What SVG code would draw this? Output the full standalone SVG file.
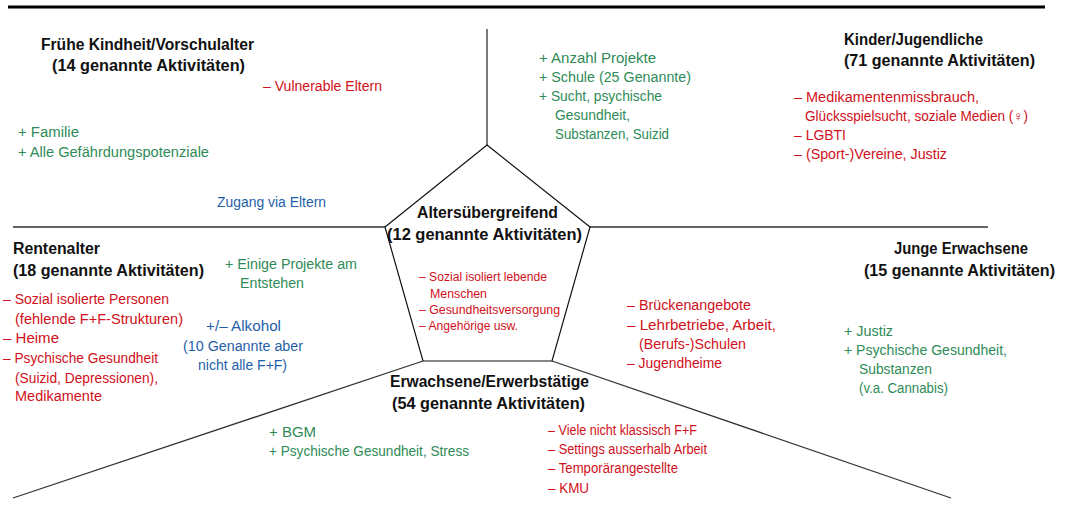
<svg xmlns="http://www.w3.org/2000/svg" width="1066" height="510" viewBox="0 0 1066 510">
<style>
text{font-family:"Liberation Sans",Arial,sans-serif;font-size:14px}
.t{font-weight:bold;font-size:16px;fill:#111}
.g{fill:#2E8B57}
.r{fill:#D0101A}
.b{fill:#1F5FAA}
.s{font-size:12.5px}
.ln{stroke:#333;stroke-width:1.3;fill:none}
</style>
<rect width="1066" height="510" fill="#fff"/>
<g id="connectors">
<line x1="8" y1="7" x2="1045" y2="7" stroke="#000" stroke-width="3"/>
<line class="ln" x1="487" y1="29" x2="487" y2="145"/>
<line class="ln" x1="13" y1="227" x2="385" y2="227" stroke="#666"/>
<line class="ln" x1="590" y1="227" x2="988" y2="227" stroke="#666"/>
<line class="ln" x1="423" y1="361" x2="13" y2="498"/>
<line class="ln" x1="552" y1="361" x2="951" y2="498"/>
</g>
<g id="altersuebergreifend">
<polygon points="487,145 590,227 552,361 423,361 385,227" fill="none" stroke="#111" stroke-width="1.2"/>
<text class="t" x="417" y="218" textLength="141" lengthAdjust="spacingAndGlyphs">Altersübergreifend</text>
<text class="t" x="387" y="240" textLength="195" lengthAdjust="spacingAndGlyphs">(12 genannte Aktivitäten)</text>
<text class="r s" x="419" y="281" textLength="128" lengthAdjust="spacingAndGlyphs">– Sozial isoliert lebende</text>
<text class="r s" x="430" y="298" textLength="57" lengthAdjust="spacingAndGlyphs">Menschen</text>
<text class="r s" x="419" y="314" textLength="141" lengthAdjust="spacingAndGlyphs">– Gesundheitsversorgung</text>
<text class="r s" x="419" y="330" textLength="99" lengthAdjust="spacingAndGlyphs">– Angehörige usw.</text>
</g>
<g id="fruehe-kindheit">
<text class="t" x="41" y="50" textLength="213" lengthAdjust="spacingAndGlyphs">Frühe Kindheit/Vorschulalter</text>
<text class="t" x="52" y="71" textLength="193" lengthAdjust="spacingAndGlyphs">(14 genannte Aktivitäten)</text>
<text class="r" x="263" y="91" textLength="119" lengthAdjust="spacingAndGlyphs">– Vulnerable Eltern</text>
<text class="g" x="18" y="137" textLength="61" lengthAdjust="spacingAndGlyphs">+  Familie</text>
<text class="g" x="18" y="157" textLength="191" lengthAdjust="spacingAndGlyphs">+  Alle Gefährdungspotenziale</text>
<text class="b" x="217" y="207" textLength="109" lengthAdjust="spacingAndGlyphs">Zugang via Eltern</text>
</g>
<g id="schule-mitte">
<text class="g" x="539" y="63" textLength="117" lengthAdjust="spacingAndGlyphs">+  Anzahl Projekte</text>
<text class="g" x="539" y="82" textLength="152" lengthAdjust="spacingAndGlyphs">+  Schule (25 Genannte)</text>
<text class="g" x="539" y="101" textLength="123" lengthAdjust="spacingAndGlyphs">+  Sucht, psychische</text>
<text class="g" x="555" y="120" textLength="75" lengthAdjust="spacingAndGlyphs">Gesundheit,</text>
<text class="g" x="555" y="139" textLength="114" lengthAdjust="spacingAndGlyphs">Substanzen, Suizid</text>
</g>
<g id="kinder-jugendliche">
<text class="t" x="844" y="45" textLength="139" lengthAdjust="spacingAndGlyphs">Kinder/Jugendliche</text>
<text class="t" x="844" y="66" textLength="191" lengthAdjust="spacingAndGlyphs">(71 genannte Aktivitäten)</text>
<text class="r" x="794" y="102" textLength="185" lengthAdjust="spacingAndGlyphs">– Medikamentenmissbrauch,</text>
<text class="r" x="805" y="121" textLength="223" lengthAdjust="spacingAndGlyphs">Glücksspielsucht, soziale Medien (♀)</text>
<text class="r" x="794" y="140" textLength="52" lengthAdjust="spacingAndGlyphs">– LGBTI</text>
<text class="r" x="794" y="159" textLength="153" lengthAdjust="spacingAndGlyphs">– (Sport-)Vereine, Justiz</text>
</g>
<g id="rentenalter">
<text class="t" x="13" y="254" textLength="87" lengthAdjust="spacingAndGlyphs">Rentenalter</text>
<text class="t" x="13" y="276" textLength="191" lengthAdjust="spacingAndGlyphs">(18 genannte Aktivitäten)</text>
<text class="g" x="225" y="269" textLength="132" lengthAdjust="spacingAndGlyphs">+  Einige Projekte am</text>
<text class="g" x="240" y="288" textLength="64" lengthAdjust="spacingAndGlyphs">Entstehen</text>
<text class="r" x="3" y="304" textLength="166" lengthAdjust="spacingAndGlyphs">– Sozial isolierte Personen</text>
<text class="r" x="15" y="324" textLength="168" lengthAdjust="spacingAndGlyphs">(fehlende F+F-Strukturen)</text>
<text class="r" x="3" y="343" textLength="56" lengthAdjust="spacingAndGlyphs">– Heime</text>
<text class="r" x="3" y="363" textLength="155" lengthAdjust="spacingAndGlyphs">– Psychische Gesundheit</text>
<text class="r" x="15" y="383" textLength="143" lengthAdjust="spacingAndGlyphs">(Suizid, Depressionen),</text>
<text class="r" x="15" y="401" textLength="87" lengthAdjust="spacingAndGlyphs">Medikamente</text>
<text class="b" x="206" y="331" textLength="75" lengthAdjust="spacingAndGlyphs">+/– Alkohol</text>
<text class="b" x="183" y="351" textLength="120" lengthAdjust="spacingAndGlyphs">(10 Genannte aber</text>
<text class="b" x="198" y="370" textLength="89" lengthAdjust="spacingAndGlyphs">nicht alle F+F)</text>
</g>
<g id="junge-erwachsene">
<text class="t" x="894" y="254" textLength="134" lengthAdjust="spacingAndGlyphs">Junge Erwachsene</text>
<text class="t" x="864" y="276" textLength="191" lengthAdjust="spacingAndGlyphs">(15 genannte Aktivitäten)</text>
<text class="r" x="627" y="310" textLength="124" lengthAdjust="spacingAndGlyphs">– Brückenangebote</text>
<text class="r" x="627" y="330" textLength="149" lengthAdjust="spacingAndGlyphs">– Lehrbetriebe, Arbeit,</text>
<text class="r" x="639" y="349" textLength="107" lengthAdjust="spacingAndGlyphs">(Berufs-)Schulen</text>
<text class="r" x="627" y="368" textLength="95" lengthAdjust="spacingAndGlyphs">– Jugendheime</text>
<text class="g" x="844" y="336" textLength="49" lengthAdjust="spacingAndGlyphs">+  Justiz</text>
<text class="g" x="844" y="355" textLength="163" lengthAdjust="spacingAndGlyphs">+  Psychische Gesundheit,</text>
<text class="g" x="859" y="374" textLength="73" lengthAdjust="spacingAndGlyphs">Substanzen</text>
<text class="g" x="859" y="393" textLength="89" lengthAdjust="spacingAndGlyphs">(v.a. Cannabis)</text>
</g>
<g id="erwachsene-erwerbstaetige">
<text class="t" x="390" y="387" textLength="199" lengthAdjust="spacingAndGlyphs">Erwachsene/Erwerbstätige</text>
<text class="t" x="392" y="409" textLength="193" lengthAdjust="spacingAndGlyphs">(54 genannte Aktivitäten)</text>
<text class="g" x="269" y="437" textLength="47" lengthAdjust="spacingAndGlyphs">+  BGM</text>
<text class="g" x="269" y="456" textLength="200" lengthAdjust="spacingAndGlyphs">+  Psychische Gesundheit, Stress</text>
<text class="r" x="548" y="435" textLength="149" lengthAdjust="spacingAndGlyphs">– Viele nicht klassisch F+F</text>
<text class="r" x="548" y="454" textLength="159" lengthAdjust="spacingAndGlyphs">– Settings ausserhalb Arbeit</text>
<text class="r" x="548" y="473" textLength="130" lengthAdjust="spacingAndGlyphs">– Temporärangestellte</text>
<text class="r" x="548" y="493" textLength="41" lengthAdjust="spacingAndGlyphs">– KMU</text>
</g>
</svg>
